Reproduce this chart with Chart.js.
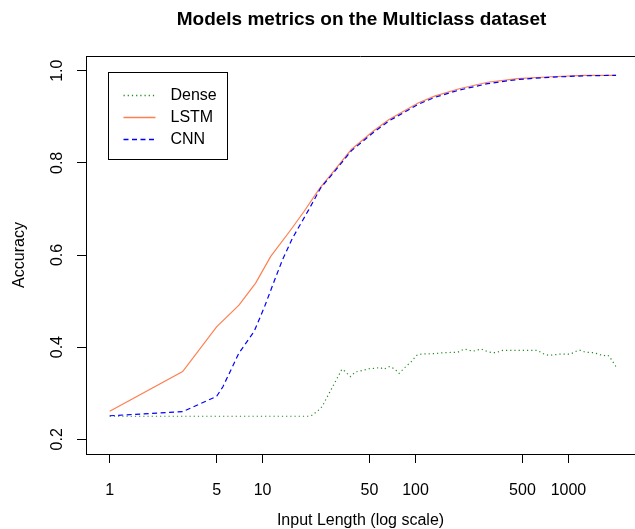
<!DOCTYPE html>
<html>
<head>
<meta charset="utf-8">
<title>Models metrics on the Multiclass dataset</title>
<script src="https://cdn.jsdelivr.net/npm/chart.js@4.4.1/dist/chart.umd.min.js"></script>
<style>
  html, body { margin: 0; padding: 0; background: #fff; overflow: hidden; }
  #wrap { position: relative; width: 635px; height: 529px; }
</style>
</head>
<body>
<div id="wrap"><canvas id="myChart"></canvas></div>
<script>
"use strict";

// Data (x = input length, y = accuracy)
const xTicks = [1, 5, 10, 50, 100, 500, 1000];
const yTicks = [0.2, 0.4, 0.6, 0.8, 1.0];

const denseX = [1, 20, 21, 23, 24.5, 33, 34.4, 37.5, 40.4, 44.6, 49.3, 54.4, 58.7, 61.7, 68, 73.4, 78, 85.3, 94.2, 101.5, 109, 133, 155, 189, 209, 225, 237, 268, 297, 320, 336, 371, 400, 626, 692, 745, 887, 1030, 1138, 1197, 1289, 1459, 1573, 1694, 1783, 1854, 1922, 1990, 2048];
const denseY = [0.25, 0.25, 0.252, 0.262, 0.271, 0.352, 0.348, 0.336, 0.346, 0.349, 0.353, 0.354, 0.356, 0.352, 0.358, 0.352, 0.343, 0.356, 0.369, 0.382, 0.385, 0.386, 0.388, 0.389, 0.396, 0.393, 0.391, 0.396, 0.390, 0.388, 0.388, 0.393, 0.393, 0.393, 0.385, 0.382, 0.385, 0.385, 0.392, 0.393, 0.389, 0.388, 0.385, 0.381, 0.383, 0.380, 0.371, 0.364, 0.357];

const lstmX = [1, 3, 5, 7, 9, 11.3, 15, 18.7, 23.4, 29, 38, 53, 67, 104, 133, 193, 296, 464, 764, 1257, 2048];
const lstmY = [0.261, 0.347, 0.444, 0.491, 0.539, 0.597, 0.651, 0.695, 0.743, 0.781, 0.829, 0.869, 0.894, 0.930, 0.945, 0.961, 0.975, 0.983, 0.987, 0.990, 0.990];

const cnnX = [1, 3, 5, 5.5, 7, 8.8, 10.3, 11.9, 13.5, 15.7, 20, 24, 28.5, 38, 53, 67, 104, 133, 193, 296, 464, 764, 1257, 2048];
const cnnY = [0.251, 0.260, 0.293, 0.314, 0.387, 0.434, 0.488, 0.543, 0.590, 0.637, 0.698, 0.746, 0.775, 0.826, 0.866, 0.891, 0.927, 0.942, 0.958, 0.972, 0.981, 0.986, 0.989, 0.990];

const toPoints = (xs, ys) => xs.map((x, i) => ({ x: x, y: ys[i] }));

const FONT = "'Liberation Sans', Arial, Helvetica, sans-serif";
Chart.defaults.font.family = FONT;
Chart.defaults.color = "#000";

// Title + top edge of the box + legend (drawn like the R plot)
const rStyle = {
  id: "rStyle",
  afterDraw(chart) {
    const ctx = chart.ctx;
    const a = chart.chartArea;
    ctx.save();

    // top edge of the plot box
    ctx.strokeStyle = "#000";
    ctx.lineWidth = 1;
    ctx.beginPath();
    ctx.moveTo(a.left, Math.round(a.top) + 0.5);
    ctx.lineTo(a.right, Math.round(a.top) + 0.5);
    ctx.stroke();

    // main title
    ctx.fillStyle = "#000";
    ctx.font = "bold 19px " + FONT;
    ctx.textAlign = "center";
    ctx.textBaseline = "middle";
    ctx.fillText("Models metrics on the Multiclass dataset", (a.left + a.right) / 2 + 1, 20);

    // legend
    const lx = a.left + 22.5;
    const ly = a.top + 16.5;
    ctx.strokeRect(lx, ly, 119, 87);
    ctx.font = "16px " + FONT;
    ctx.textAlign = "left";
    ["Dense", "LSTM", "CNN"].forEach((name, i) => {
      const idx = chart.data.datasets.findIndex((d) => d.label === name);
      const opts = chart.getDatasetMeta(idx).dataset.options;
      const y = Math.round(ly + 22 + i * 22) + 0.5;
      ctx.strokeStyle = opts.borderColor;
      ctx.lineWidth = 1.3;
      ctx.setLineDash(opts.borderDash || []);
      ctx.beginPath();
      ctx.moveTo(lx + 15, y);
      ctx.lineTo(lx + 47, y);
      ctx.stroke();
      ctx.setLineDash([]);
      ctx.fillText(name, lx + 62, y);
    });
    ctx.restore();
  },
};

const ctx = document.getElementById("myChart").getContext("2d");
const myChart = new Chart(ctx, {
  type: "line",
  data: {
    datasets: [
      {
        label: "Dense",
        data: toPoints(denseX, denseY),
        borderColor: "#228B22",
        borderWidth: 1.2,
        borderDash: [1.2, 3],
        order: 3,
      },
      {
        label: "LSTM",
        data: toPoints(lstmX, lstmY),
        borderColor: "#FF7F50",
        borderWidth: 1.2,
        order: 2,
      },
      {
        label: "CNN",
        data: toPoints(cnnX, cnnY),
        borderColor: "#0000FF",
        borderWidth: 1.2,
        borderDash: [5, 3.5],
        order: 1,
      },
    ],
  },
  options: {
    responsive: true,
    maintainAspectRatio: false,
    animation: false,
    elements: {
      point: { radius: 0, hoverRadius: 0 },
      line: { tension: 0, fill: false },
    },
    layout: { padding: { top: 56, left: 0, right: 0, bottom: 0 } },
    plugins: {
      legend: { display: false },
      tooltip: { enabled: false },
      title: { display: false },
    },
    scales: {
      x: {
        type: "logarithmic",
        position: "bottom",
        min: 0.7414,
        max: 2723,
        afterBuildTicks: (scale) => {
          scale.ticks = xTicks.map((v) => ({ value: v }));
        },
        afterFit: (scale) => {
          scale.height = 75;
        },
        ticks: {
          autoSkip: false,
          minRotation: 0,
          maxRotation: 0,
          padding: 18,
          color: "#000",
          font: { size: 16 },
          callback: (v) => String(v),
        },
        grid: { drawOnChartArea: false, drawTicks: true, tickLength: 9, color: "#000" },
        border: { display: true, color: "#000", width: 1 },
        title: {
          display: true,
          text: "Input Length (log scale)",
          color: "#000",
          font: { size: 16, lineHeight: 1 },
          padding: { top: 0, bottom: 0 },
        },
      },
      y: {
        type: "linear",
        min: 0.168,
        max: 1.032,
        afterBuildTicks: (scale) => {
          scale.ticks = yTicks.map((v) => ({ value: v }));
        },
        afterFit: (scale) => {
          scale.width = 86;
        },
        ticks: {
          minRotation: 90,
          maxRotation: 90,
          crossAlign: "center",
          padding: 8,
          color: "#000",
          font: { size: 16 },
          callback: (v) => v.toFixed(1),
        },
        grid: { drawOnChartArea: false, drawTicks: true, tickLength: 9, color: "#000" },
        border: { display: true, color: "#000", width: 1 },
        title: {
          display: true,
          text: "Accuracy",
          color: "#000",
          font: { size: 16, lineHeight: 1 },
          padding: { top: 12, bottom: 0 },
        },
      },
    },
  },
  plugins: [rStyle],
});
</script>
</body>
</html>
